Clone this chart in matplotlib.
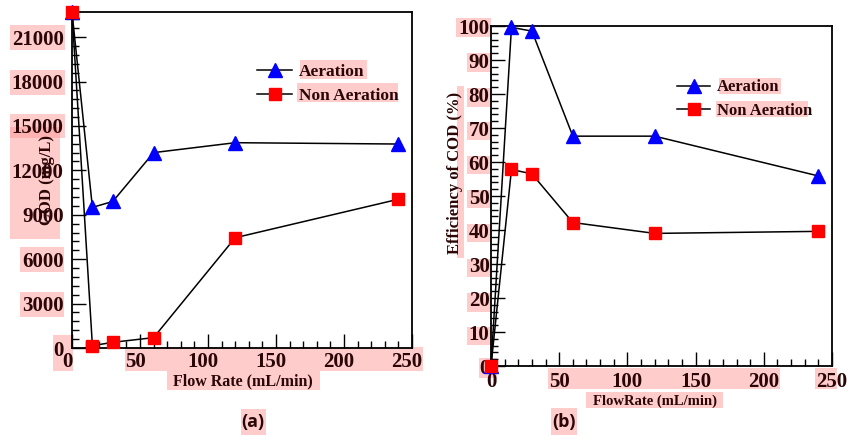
import matplotlib
matplotlib.use("Agg")
import matplotlib.pyplot as plt
from matplotlib.patches import Rectangle
from matplotlib.ticker import MultipleLocator
import matplotlib.transforms as mtransforms

# ---------------- data ----------------
flow_rate = [0, 15, 30, 60, 120, 240]
cod_aeration = [22700, 9500, 9900, 13200, 13870, 13780]
cod_non_aeration = [22700, 155, 385, 700, 7450, 10050]
eff_aeration = [0, 99.6, 98.5, 67.6, 67.6, 55.9]
eff_non_aeration = [0, 57.8, 56.5, 42.2, 39.0, 39.6]

x_ticks = [0, 50, 100, 150, 200, 250]
cod_ticks = [0, 3000, 6000, 9000, 12000, 15000, 18000, 21000]
eff_ticks = [0, 10, 20, 30, 40, 50, 60, 70, 80, 90, 100]
series_labels = ["Aeration", "Non Aeration"]

# ---------------- style ----------------
W, H = 847, 436
TXT = "#2b0606"
PINK = "#ff9a9a"
SERIF = "Liberation Serif"

fig = plt.figure(figsize=(W / 100, H / 100), dpi=100)


def ax_px(l, t, r, b):
    return fig.add_axes([l / W, 1 - b / H, (r - l) / W, (b - t) / H])


def pink(x0, y0, x1, y1):
    fig.patches.append(Rectangle((x0 / W, 1 - y1 / H), (x1 - x0) / W, (y1 - y0) / H,
                                 transform=fig.transFigure, facecolor=PINK,
                                 edgecolor="none", alpha=0.5, zorder=-1))


def style_axes(ax, ypad, xpad):
    ax.patch.set_facecolor("none")
    for s in ax.spines.values():
        s.set_linewidth(1.3)
        s.set_color("black")
    ax.tick_params(which="both", direction="in", top=False, right=False,
                   color="black", width=1.0)
    ax.tick_params(which="major", length=10)
    ax.tick_params(which="minor", length=5)
    ax.tick_params(axis="y", pad=ypad)
    ax.tick_params(axis="x", pad=xpad)
    for lab in ax.get_xticklabels() + ax.get_yticklabels():
        lab.set_fontfamily(SERIF)
        lab.set_fontweight("bold")
        lab.set_fontsize(15)
        lab.set_color(TXT)


def draw_series(ax, y1, y2):
    ax.plot(flow_rate, y1, color="black", lw=1.1, marker="^", ms=10.5,
            mfc="#0000ff", mec="#0000ff", clip_on=False, zorder=3, label=series_labels[0])
    ax.plot(flow_rate, y2, color="black", lw=1.1, marker="s", ms=8,
            mfc="#ff0000", mec="#ff0000", clip_on=False, zorder=4, label=series_labels[1])


# ---------------- panel (a) ----------------
axa = ax_px(72, 12, 412, 348)
draw_series(axa, cod_aeration, cod_non_aeration)
axa.set_xlim(0, 250)
axa.set_ylim(0, 22700)
axa.set_xticks(x_ticks)
axa.set_yticks(cod_ticks)
axa.xaxis.set_minor_locator(MultipleLocator(10))
axa.yaxis.set_minor_locator(MultipleLocator(600))
style_axes(axa, ypad=6, xpad=3)
off = mtransforms.ScaledTranslation(-5 / 100, 0, fig.dpi_scale_trans)
for lab in axa.get_xticklabels():
    lab.set_transform(lab.get_transform() + off)
axa.set_xlabel("Flow Rate (mL/min)", fontfamily=SERIF, fontweight="bold",
               fontsize=11.5, color=TXT)
axa.xaxis.set_label_coords(0.503, -0.098)
axa.xaxis.label.set_va("center")
axa.set_ylabel("COD (mg/L)", fontfamily=SERIF, fontweight="bold",
               fontsize=12, color=TXT)
axa.yaxis.set_label_coords(-0.0735, 0.5)
axa.yaxis.label.set_va("center")
lega = axa.legend(loc="upper left", bbox_to_anchor=(0.545, 0.845), frameon=False,
                  prop={"family": SERIF, "weight": "bold", "size": 12.5},
                  handlelength=2.0, handletextpad=0.4, labelspacing=0.42,
                  borderpad=0, borderaxespad=0)
for t in lega.get_texts():
    t.set_color(TXT)

# ---------------- panel (b) ----------------
axb = ax_px(491, 26, 832, 366)
draw_series(axb, eff_aeration, eff_non_aeration)
axb.set_xlim(0, 250)
axb.set_ylim(0, 100)
axb.set_xticks(x_ticks)
axb.set_yticks(eff_ticks)
axb.xaxis.set_minor_locator(MultipleLocator(10))
axb.yaxis.set_minor_locator(MultipleLocator(2))
style_axes(axb, ypad=1, xpad=4)
axb.set_xlabel("FlowRate (mL/min)", fontfamily=SERIF, fontweight="bold",
               fontsize=10.5, color=TXT)
axb.xaxis.set_label_coords(0.481, -0.103)
axb.xaxis.label.set_va("center")
axb.set_ylabel("Efficiency of COD (%)", fontfamily=SERIF, fontweight="bold",
               fontsize=12, color=TXT)
axb.yaxis.set_label_coords(-0.1056, 0.569)
axb.yaxis.label.set_va("center")
legb = axb.legend(loc="upper left", bbox_to_anchor=(0.545, 0.843), frameon=False,
                  prop={"family": SERIF, "weight": "bold", "size": 12},
                  handlelength=2.0, handletextpad=0.4, labelspacing=0.43,
                  borderpad=0, borderaxespad=0)
for t in legb.get_texts():
    t.set_color(TXT)

# ---------------- captions ----------------
fig.text(253 / W, 1 - 422 / H, "(a)", ha="center", va="center",
         fontfamily="Open Sans", fontweight="bold", fontsize=13, color=TXT)
fig.text(564 / W, 1 - 422 / H, "(b)", ha="center", va="center",
         fontfamily="Open Sans", fontweight="bold", fontsize=13, color=TXT)

# ---------------- text highlight boxes ----------------
boxes = [
    (10, 25, 65, 50), (10, 70, 65, 95), (10, 114, 65, 138), (10, 127, 60, 239),
    (20, 247, 64, 272), (20, 292, 64, 317), (53, 335, 73, 371),
    (125, 347, 423, 371), (167, 371, 320, 390), (241, 409, 266, 435),
    (300, 60, 367, 79), (297, 83, 398, 102),
    (456, 18, 491, 37), (467, 53, 491, 72), (467, 88, 491, 107), (467, 122, 491, 140),
    (467, 156, 491, 174), (467, 190, 491, 208), (467, 224, 491, 242),
    (467, 259, 491, 277), (467, 293, 491, 312), (467, 327, 491, 345),
    (479, 358, 497, 378), (548, 368, 780, 389), (815, 368, 837, 389),
    (586, 392, 723, 408), (551, 408, 577, 435), (457, 86, 464, 258),
    (719, 78, 781, 94), (716, 101, 808, 117),
]
for b in boxes:
    pink(*b)

fig.savefig("out.png", dpi=100)
